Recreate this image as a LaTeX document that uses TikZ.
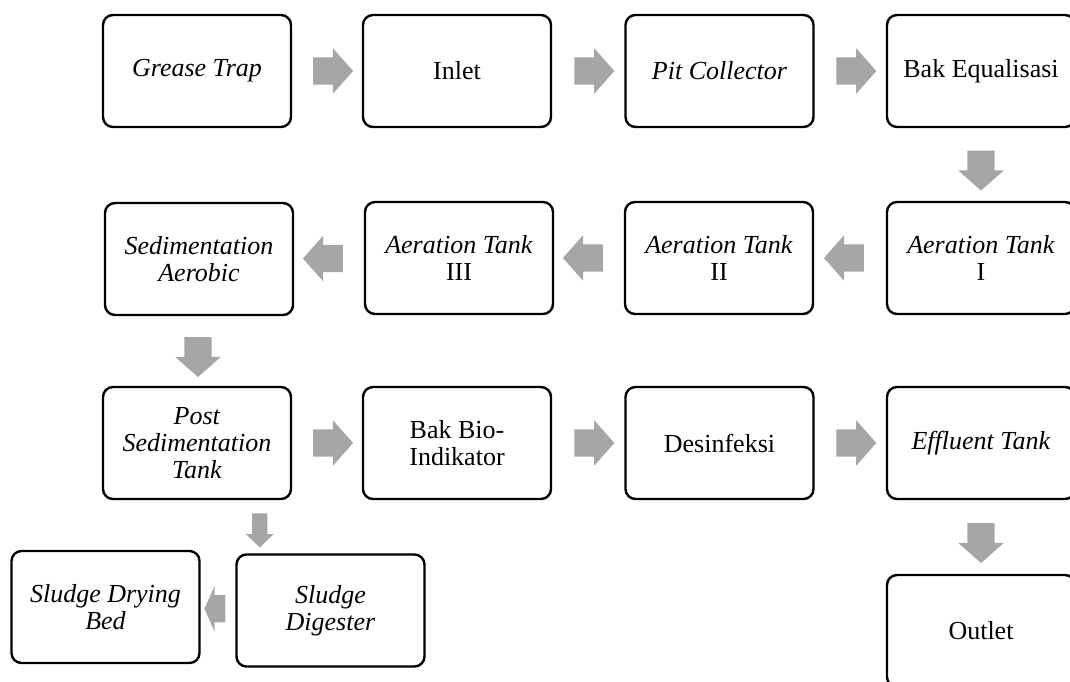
\documentclass[tikz,border=0pt]{standalone}
\usepackage{fontspec}
\setmainfont{Liberation Serif}
\usetikzlibrary{shapes.arrows,calc}
\definecolor{arrowgray}{RGB}{166,166,166}
\tikzset{
  box/.style={draw=black, line width=2.4pt, rounded corners=10pt, fill=white,
    minimum width=188pt, minimum height=112pt, inner sep=0pt, align=center,
    font=\fontsize{26}{27}\selectfont},
  barrow/.style={single arrow, fill=arrowgray, draw=none, inner xsep=0pt, inner ysep=13.5pt,
    minimum height=40pt, minimum width=0pt, single arrow head extend=9pt,
    single arrow tip angle=97},
  sdarrow/.style={single arrow, fill=arrowgray, draw=none, inner xsep=0pt, inner ysep=7.5pt,
    minimum height=34pt, minimum width=0pt, single arrow head extend=6pt,
    single arrow tip angle=92},
  slarrow/.style={single arrow, fill=arrowgray, draw=none, inner xsep=0pt, inner ysep=13.5pt,
    minimum height=21pt, minimum width=0pt, single arrow head extend=9pt,
    single arrow tip angle=132},
}
\begin{document}
\begin{tikzpicture}[x=1pt,y=-1pt]
\useasboundingbox (0,0) rectangle (1070,682);
\clip (0,0) rectangle (1070,682);
% row 1
\node[box] (gt)  at (197,71)  {\textit{Grease Trap}};
\node[box] (inl) at (457,71)  {Inlet};
\node[box] (pit) at (719.5,71) {\textit{Pit Collector}};
\node[box] (beq) at (981,71)  {Bak Equalisasi};
% row 2
\node[box] (sed) at (199,259) {\textit{Sedimentation}\\\textit{Aerobic}};
\node[box] (a3)  at (459,258) {\textit{Aeration Tank}\\III};
\node[box] (a2)  at (719,258) {\textit{Aeration Tank}\\II};
\node[box] (a1)  at (981,258) {\textit{Aeration Tank}\\I};
% row 3
\node[box] (pst) at (197,443) {\textit{Post}\\\textit{Sedimentation}\\\textit{Tank}};
\node[box] (bio) at (457,443) {Bak Bio-\\Indikator};
\node[box] (des) at (719.5,443) {Desinfeksi};
\node[box] (eff) at (981,443) {\textit{Effluent Tank}};
% row 4
\node[box] (dry) at (105.5,607) {\textit{Sludge Drying}\\\textit{Bed}};
\node[box] (dig) at (330.5,610.5) {\textit{Sludge}\\\textit{Digester}};
\node[box] (out) at (981,631) {Outlet};
% arrows
\node[barrow] (r1) at ($(gt.east)!0.5!(inl.west)$) {};
\node[barrow] (r2) at ($(inl.east)!0.5!(pit.west)$) {};
\node[barrow] (r3) at ($(pit.east)!0.5!(beq.west)$) {};
\node[barrow, rotate=-90] (d1) at ($(beq.south)!0.5!(a1.north)$) {};
\node[barrow, shape border rotate=180] (l1) at ($(a1.west)!0.5!(a2.east)$) {};
\node[barrow, shape border rotate=180] (l2) at ($(a2.west)!0.5!(a3.east)$) {};
\node[barrow, shape border rotate=180] (l3) at ($(a3.west)!0.5!(sed.east)$) {};
\node[barrow, rotate=-90] (d2) at ($(sed.south)!0.5!(pst.north)$) {};
\node[barrow] (r4) at ($(pst.east)!0.5!(bio.west)$) {};
\node[barrow] (r5) at ($(bio.east)!0.5!(des.west)$) {};
\node[barrow] (r6) at ($(des.east)!0.5!(eff.west)$) {};
\node[barrow, rotate=-90] (d3) at ($(eff.south)!0.5!(out.north)$) {};
\node[sdarrow, rotate=-90] (d4) at ($($(pst.south)!0.5!(dig.north)$)+(-4,0)$) {};
\node[slarrow, shape border rotate=180] (l4) at ($(dig.west)!0.5!(dry.east)$) {};
\end{tikzpicture}
\end{document}
